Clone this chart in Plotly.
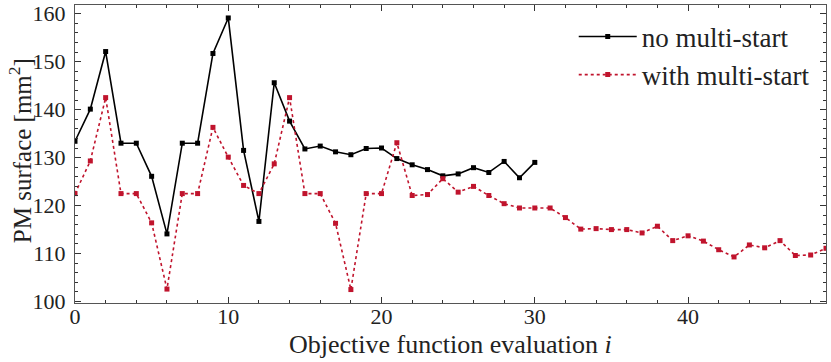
import plotly.graph_objects as go

# evaluations
iters_no = list(range(0, 31))
iters_ms = list(range(0, 50))

# PM surface [mm^2], no multi-start
surface_no = [133.4, 140.1, 152.1, 133.0, 133.0, 126.1, 114.1, 133.0, 133.0, 151.7,
              159.1, 131.5, 116.7, 145.6, 137.6, 131.8, 132.4, 131.2, 130.6, 131.9,
              132.0, 129.8, 128.5, 127.5, 126.2, 126.6, 127.9, 126.9, 129.2, 125.8,
              129.0]

# PM surface [mm^2], with multi-start
surface_ms = [122.5, 129.3, 142.5, 122.5, 122.5, 116.4, 102.6, 122.5, 122.5, 136.3,
              130.1, 124.2, 122.5, 128.7, 142.5, 122.5, 122.5, 116.3, 102.5, 122.5,
              122.5, 133.1, 122.1, 122.3, 125.6, 122.8, 124.0, 122.1, 120.4, 119.5,
              119.5, 119.5, 117.5, 115.1, 115.2, 115.0, 115.0, 114.3, 115.7, 112.7,
              113.7, 112.6, 110.8, 109.3, 111.8, 111.2, 112.7, 109.6, 109.7, 111.1]

FONT = "Liberation Serif, DejaVu Serif, serif"
RED = "#C0142D"

fig = go.Figure()
fig.add_trace(go.Scatter(
    x=iters_no, y=surface_no, mode="lines+markers", name="no multi-start",
    line=dict(color="black", width=1.6),
    marker=dict(symbol="square", size=5, color="black"),
))
fig.add_trace(go.Scatter(
    x=iters_ms, y=surface_ms, mode="lines+markers", name="with multi-start",
    line=dict(color=RED, width=1.6, dash="dot"),
    marker=dict(symbol="square", size=5, color=RED),
))

axis_common = dict(
    showgrid=False, zeroline=False, showline=True, linecolor="#555", linewidth=1.2,
    mirror="allticks", ticks="inside", ticklen=6, tickwidth=1, tickcolor="#333",
    tickfont=dict(family=FONT, size=22, color="#222"), automargin=False,
)

fig.update_layout(
    width=831, height=362,
    margin=dict(l=75, r=5, t=5, b=59),
    plot_bgcolor="white", paper_bgcolor="white",
    font=dict(family=FONT, color="#222"),
    xaxis=dict(
        **axis_common, range=[0, 49], dtick=10, tick0=0,
        minor=dict(ticks="inside", dtick=2, ticklen=3, tickcolor="#333"),
        ticklabelstandoff=-7,
    ),
    yaxis=dict(
        **axis_common, range=[99.7, 161.8], dtick=10, tick0=100,
        minor=dict(ticks="inside", dtick=2, ticklen=3, tickcolor="#333"),
        ticklabelstandoff=4,
    ),
    legend=dict(
        x=0.985, y=0.975, xanchor="right", yanchor="top",
        bgcolor="rgba(0,0,0,0)", font=dict(family=FONT, size=27),
        itemwidth=58, tracegroupgap=6,
    ),
)

# axis titles as annotations so they sit where the reference has them
fig.add_annotation(text="Objective function evaluation <i>i</i>",
                   xref="paper", yref="paper", x=0.5, y=-0.14,
                   xanchor="center", yanchor="middle", showarrow=False,
                   font=dict(family=FONT, size=26, color="#222"))
fig.add_annotation(text="PM surface [mm<sup>2</sup>]",
                   xref="paper", yref="paper", x=-0.073, y=0.51,
                   xanchor="center", yanchor="middle", textangle=-90, showarrow=False,
                   font=dict(family=FONT, size=25, color="#222"))

fig.write_html("out.html", config={"displayModeBar": False},
               post_script="document.body.style.margin='0';")
